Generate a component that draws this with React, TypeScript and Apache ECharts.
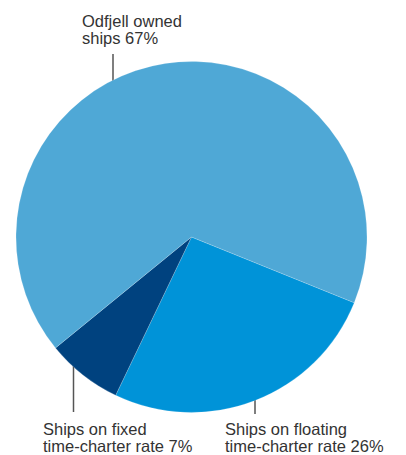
import React, { useEffect, useRef } from "react";
import * as echarts from "echarts";

const categories = [
  "Ships on floating\ntime-charter rate 26%",
  "Ships on fixed\ntime-charter rate 7%",
  "Odfjell owned\nships 67%",
];
const values = [26, 7, 67];
const colors = ["#0093d8", "#00427f", "#4fa8d6"];

export default function App() {
  const ref = useRef<HTMLDivElement>(null);
  useEffect(() => {
    document.body.style.margin = "0";
    const chart = echarts.init(ref.current!, null, { renderer: "svg" });
    const font = "'Liberation Sans', Arial, Helvetica, sans-serif";
    const textStyle = (t: string) => ({
      text: t,
      fill: "#333333",
      font: `16.5px ${font}`,
      lineHeight: 17,
      textVerticalAlign: "top",
    });
    const lineStyle = { stroke: "#555555", lineWidth: 1.5 };
    chart.setOption({
      animation: false,
      backgroundColor: "#ffffff",
      series: [
        {
          type: "pie",
          center: [191.5, 237],
          radius: [0, 175.5],
          startAngle: -22,
          clockwise: true,
          label: { show: false },
          labelLine: { show: false },
          silent: true,
          itemStyle: { borderColor: "rgba(255,255,255,0.35)", borderWidth: 0.5 },
          data: categories.map((c, i) => ({
            name: c,
            value: values[i],
            itemStyle: { color: colors[i] },
          })),
        },
      ],
      graphic: [
        { type: "text", x: 82, y: 12, style: textStyle(categories[2]) },
        { type: "line", shape: { x1: 113, y1: 54, x2: 113, y2: 105 }, style: lineStyle },
        { type: "text", x: 43, y: 420, style: textStyle(categories[1]) },
        { type: "line", shape: { x1: 73.5, y1: 361, x2: 73.5, y2: 412 }, style: lineStyle },
        { type: "text", x: 225, y: 420, style: textStyle(categories[0]) },
        { type: "line", shape: { x1: 255, y1: 363, x2: 255, y2: 414 }, style: lineStyle },
      ],
    });
    return () => chart.dispose();
  }, []);
  return <div ref={ref} style={{ width: 406, height: 455 }} />;
}
